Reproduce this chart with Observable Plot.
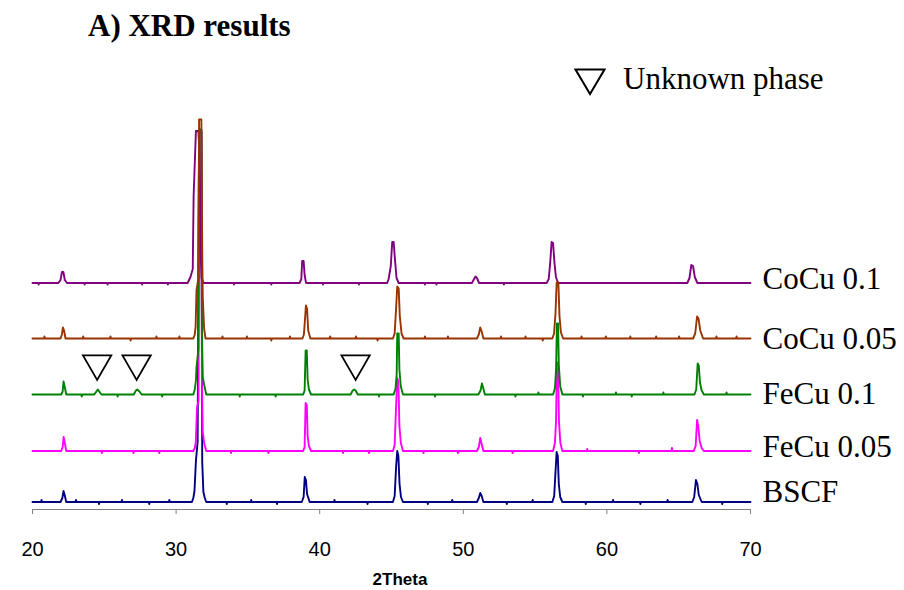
<!DOCTYPE html>
<html>
<head>
<meta charset="utf-8">
<script src="https://cdn.jsdelivr.net/npm/d3@7"></script>
<script src="https://cdn.jsdelivr.net/npm/@observablehq/plot@0.6"></script>
<style>
  html, body { margin: 0; padding: 0; background: #fff; }
  #wrap { position: relative; width: 904px; height: 590px; overflow: hidden; }
  #chart { position: absolute; left: 0; top: 0; }
  .title { position: absolute; left: 88px; top: 10px; font: bold 31px "Liberation Serif", serif; line-height: 1; white-space: nowrap; }
  .legend { position: absolute; left: 574px; top: 63px; font: 31px "Liberation Serif", serif; line-height: 1; white-space: nowrap; }
  .legend svg { position: absolute; left: 0; top: 5px; }
  .legend span { position: absolute; left: 49px; top: 0; }
  .xlabel { position: absolute; left: 0; width: 800px; text-align: center; top: 571px; font: bold 17px "Liberation Sans", sans-serif; line-height: 1; }
</style>
</head>
<body>
<div id="wrap">
  <div id="chart"></div>
  <div class="title">A) XRD results</div>
  <div class="legend"><svg width="32" height="28"><polygon points="1.5,1.5 30.5,1.5 16,26" fill="none" stroke="#000" stroke-width="2"/></svg><span>Unknown phase</span></div>
  <div class="xlabel">2Theta</div>
</div>
<script>
// ---- data (2Theta, intensity above each pattern's baseline, arbitrary units) ----
const seriesNames = ["BSCF", "FeCu 0.05", "FeCu 0.1", "CoCu 0.05", "CoCu 0.1"];
const offsets     = [7.5, 58.5, 115, 171, 226.5];
const labelY      = [17, 62, 115, 170, 230];
const colors      = ["#000080", "#FF00FF", "#008000", "#993300", "#800080"];
const xTicks      = [20, 30, 40, 50, 60, 70];
const unknownX    = [24.5, 27.25, 42.5];
const unknownY    = 146;

const bscf = [
  [20,0],[20.6,0],[20.63,2],[20.66,0],[21.95,0],[22.08,4],[22.16,11],[22.24,7],[22.35,0],
  [23.0,0],[23.03,2],[23.06,0],[24.6,0],[24.63,-2],[24.66,0],[26.2,0],[26.23,2],[26.26,0],[28.1,0],[28.13,-2],[28.16,0],[29.5,0],[29.53,2],[29.56,0],
  [31.1,0],[31.2,4],[31.28,11],[31.38,41],[31.5,60],[31.6,370],[31.76,370],[31.82,40],[31.9,10],[32.0,4],[32.1,0],
  [33.5,0],[33.53,-2],[33.56,0],[35.2,0],[35.23,2],[35.26,0],[37.0,0],[37.03,-2],[37.06,0],
  [38.75,0],[38.88,5],[38.96,25],[39.04,22],[39.12,8],[39.3,0],
  [41.0,0],[41.03,2],[41.06,0],[43.3,0],[43.33,-2],[43.36,0],
  [45.1,0],[45.22,6],[45.32,35],[45.4,51],[45.48,46],[45.56,18],[45.66,5],[45.8,0],
  [47.5,0],[47.53,-2],[47.56,0],[49.2,0],[49.23,2],[49.26,0],
  [50.95,0],[51.08,4],[51.18,9],[51.28,6],[51.4,0],
  [53.0,0],[53.03,-2],[53.06,0],[54.8,0],[54.83,2],[54.86,0],
  [56.2,0],[56.33,6],[56.42,30],[56.5,50],[56.58,46],[56.65,18],[56.75,5],[56.9,0],
  [58.5,0],[58.53,-2],[58.56,0],[60.4,0],[60.43,2],[60.46,0],[62.3,0],[62.33,-2],[62.36,0],[64.2,0],[64.23,2],[64.26,0],
  [65.95,0],[66.08,5],[66.2,22],[66.3,18],[66.4,7],[66.6,0],
  [68.0,0],[68.03,-2],[68.06,0],[70,0]
];
const fecu005 = [
  [20,0],[22.0,0],[22.1,4],[22.17,14],[22.25,8],[22.35,0],
  [24.8,0],[24.83,-2],[24.86,0],[27.0,0],[27.03,-2],[27.06,0],[28.8,0],[28.83,-2],[28.86,0],
  [31.2,0],[31.3,3],[31.37,8],[31.46,44],[31.56,50],[31.6,320],[31.76,320],[31.8,70],[31.85,20],[31.95,8],[32.1,0],
  [33.8,0],[33.83,-2],[33.86,0],[36.4,0],[36.43,-2],[36.46,0],
  [38.85,0],[38.95,4],[39.02,48],[39.1,46],[39.16,15],[39.25,5],[39.4,0],
  [41.6,0],[41.63,-2],[41.66,0],[43.4,0],[43.43,-2],[43.46,0],
  [45.1,0],[45.22,6],[45.32,45],[45.4,73],[45.48,70],[45.55,25],[45.65,8],[45.8,0],
  [47.2,0],[47.23,-2],[47.26,0],[49.6,0],[49.63,-2],[49.66,0],
  [50.95,0],[51.08,4],[51.18,13],[51.26,8],[51.4,0],
  [53.4,0],[53.43,-2],[53.46,0],
  [56.25,0],[56.38,8],[56.46,30],[56.52,89],[56.6,85],[56.66,30],[56.76,8],[56.9,0],
  [58.6,0],[58.63,2],[58.66,0],[62.2,0],[62.23,-2],[62.26,0],[64.5,0],[64.53,3],[64.56,0],
  [66.05,0],[66.18,5],[66.28,31],[66.36,25],[66.46,10],[66.6,3],[66.75,0],[70,0]
];
const fecu01 = [
  [20,0],[22.0,0],[22.1,3],[22.16,13],[22.24,8],[22.35,0],
  [23.4,0],[23.43,-2],[23.46,0],
  [24.3,0],[24.45,3],[24.55,5],[24.65,3],[24.8,0],
  [25.9,0],[25.93,-2],[25.96,0],
  [27.05,0],[27.2,4],[27.3,5],[27.45,3],[27.6,0],
  [29.0,0],[29.03,-2],[29.06,0],
  [31.2,0],[31.3,5],[31.38,14],[31.42,27],[31.55,45],[31.6,265],[31.76,265],[31.8,60],[31.86,17],[31.95,10],[32.1,0],
  [34.4,0],[34.43,-2],[34.46,0],[36.9,0],[36.93,-2],[36.96,0],
  [38.85,0],[38.95,4],[39.02,44],[39.1,44],[39.16,15],[39.25,5],[39.4,0],
  [42.15,0],[42.3,4],[42.4,5],[42.5,4],[42.65,0],
  [44.1,0],[44.13,-2],[44.16,0],
  [45.15,0],[45.28,6],[45.36,20],[45.4,61],[45.5,61],[45.55,25],[45.65,8],[45.8,0],
  [48.0,0],[48.03,-2],[48.06,0],
  [51.05,0],[51.2,4],[51.3,11],[51.38,7],[51.5,0],
  [53.6,0],[53.63,-2],[53.66,0],[55.2,0],[55.23,2],[55.26,0],
  [56.25,0],[56.38,6],[56.46,25],[56.52,71],[56.6,71],[56.65,30],[56.75,8],[56.9,0],
  [58.3,0],[58.33,-2],[58.36,0],[60.6,0],[60.63,2],[60.66,0],[61.7,0],[61.73,-2],[61.76,0],[63.9,0],[63.93,2],[63.96,0],
  [66.1,0],[66.22,5],[66.32,31],[66.4,29],[66.48,12],[66.6,4],[66.75,0],
  [68.3,0],[68.33,2],[68.36,0],[70,0]
];
const cocu005 = [
  [20,0],[20.8,0],[20.83,2],[20.86,0],[21.95,0],[22.05,4],[22.12,11],[22.2,8],[22.3,0],
  [23.5,0],[23.53,2],[23.56,0],[25.4,0],[25.43,2],[25.46,0],[26.8,0],[26.83,-2],[26.86,0],[28.6,0],[28.63,2],[28.66,0],[30.2,0],[30.23,2],[30.26,0],
  [31.2,0],[31.3,4],[31.36,12],[31.42,48],[31.55,60],[31.6,219],[31.76,219],[31.82,85],[31.86,40],[31.95,10],[32.05,0],
  [33.2,0],[33.23,2],[33.26,0],[34.9,0],[34.93,2],[34.96,0],[36.6,0],[36.63,-2],[36.66,0],[37.9,0],[37.93,2],[37.96,0],
  [38.8,0],[38.9,4],[38.98,20],[39.04,33],[39.12,30],[39.2,8],[39.35,0],
  [40.7,0],[40.73,2],[40.76,0],[42.5,0],[42.53,2],[42.56,0],[44.0,0],[44.03,-2],[44.06,0],
  [45.1,0],[45.22,5],[45.32,30],[45.4,52],[45.5,50],[45.58,22],[45.7,5],[45.85,0],
  [47.3,0],[47.33,2],[47.36,0],[48.9,0],[48.93,2],[48.96,0],
  [50.95,0],[51.08,4],[51.18,11],[51.28,7],[51.4,0],
  [52.6,0],[52.63,2],[52.66,0],[54.3,0],[54.33,2],[54.36,0],[55.5,0],[55.53,-2],[55.56,0],
  [56.2,0],[56.32,5],[56.42,25],[56.5,56],[56.62,56],[56.7,22],[56.8,6],[56.95,0],
  [58.2,0],[58.23,2],[58.26,0],[59.9,0],[59.93,2],[59.96,0],[61.6,0],[61.63,2],[61.66,0],[63.4,0],[63.43,2],[63.46,0],[65.0,0],[65.03,2],[65.06,0],
  [66.0,0],[66.15,5],[66.28,22],[66.38,20],[66.5,8],[66.7,0],
  [67.6,0],[67.63,2],[67.66,0],[69.0,0],[69.03,2],[69.06,0],[70,0]
];
const cocu01 = [
  [20,0],[20.4,0],[20.43,-1.5],[20.46,0],[21.8,0],[21.95,3],[22.05,11],[22.15,11],[22.25,3],[22.4,0],
  [23.6,0],[23.63,-1.5],[23.66,0],[25.2,0],[25.23,-1.5],[25.26,0],[27.6,0],[27.63,-1.5],[27.66,0],[29.4,0],[29.43,-1.5],[29.46,0],
  [30.8,0],[30.9,3],[31.0,6],[31.16,14],[31.22,87],[31.38,152],[31.55,152],[31.6,139],[31.66,100],[31.7,32],[31.78,5],[31.92,0],
  [34.0,0],[34.03,-1.5],[34.06,0],[36.6,0],[36.63,-1.5],[36.66,0],
  [38.6,0],[38.72,4],[38.78,22],[38.88,22],[38.95,8],[39.05,0],
  [40.2,0],[40.23,-1.5],[40.26,0],[42.7,0],[42.73,-1.5],[42.76,0],
  [44.7,0],[44.8,4],[44.95,17],[45.05,41],[45.15,41],[45.25,22],[45.35,5],[45.5,0],
  [47.3,0],[47.33,-1.5],[47.36,0],[48.1,0],[48.13,-1.5],[48.16,0],
  [50.6,0],[50.75,4],[50.85,6.5],[50.95,5],[51.1,0],
  [52.8,0],[52.83,-1.5],[52.86,0],
  [55.8,0],[55.95,4],[56.05,20],[56.15,41],[56.25,40],[56.35,20],[56.45,6],[56.6,0],
  [65.6,0],[65.75,5],[65.88,18],[66.0,17],[66.12,6],[66.3,0],[70,0]
];
const patterns = [bscf, fecu005, fecu01, cocu005, cocu01];

// ---- build ----
const rows = i => patterns[i].map(([x, h]) => ({x, y: offsets[i] + h}));
const drawOrder = [0, 1, 2, 4, 3];
const lineMarks = drawOrder.map(i =>
  Plot.line(rows(i), {x: "x", y: "y", stroke: colors[i], strokeWidth: 1.9, strokeLinejoin: "round"})
);
const labels = seriesNames.map((name, i) => ({name, x: 70, y: labelY[i]}));

const chart = Plot.plot({
  width: 904,
  height: 590,
  marginLeft: 32,
  marginRight: 154,
  marginTop: 109,
  marginBottom: 81,
  style: {fontFamily: "Liberation Sans, sans-serif", fontSize: "20px", background: "transparent", overflow: "visible"},
  x: {domain: [20, 70]},
  y: {domain: [0, 400], axis: null},
  marks: [
    ...lineMarks,
    Plot.dot(unknownX, {x: d => d, y: () => unknownY, symbol: "triangle", r: 10.5, rotate: 180, fill: "none", stroke: "black", strokeWidth: 1.8}),
    Plot.ruleY([0], {stroke: "#808080", strokeWidth: 1.2}),
    Plot.axisX({ticks: xTicks, tickSize: 5, tickPadding: 27, stroke: "#808080", fill: "black", fontSize: 20, label: null}),
    Plot.text(labels, {x: "x", y: "y", text: "name", dx: 12, textAnchor: "start", fontFamily: "Liberation Serif, serif", fontSize: 31, fill: "black", clip: false})
  ]
});
document.getElementById("chart").appendChild(chart);
</script>
</body>
</html>
